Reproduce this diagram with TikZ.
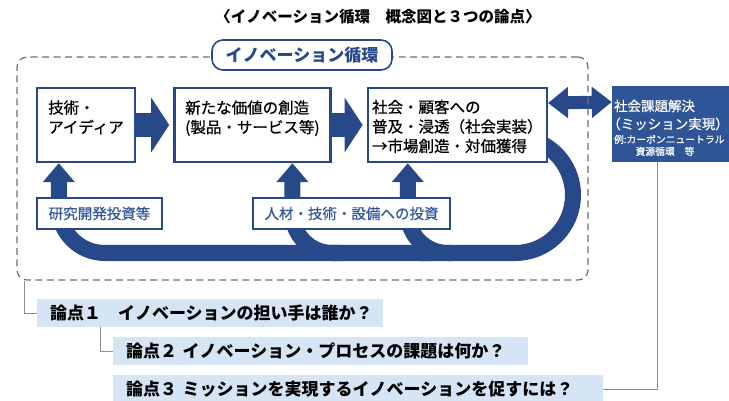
\documentclass[tikz,border=0pt]{standalone}
\usepackage{fontspec}
\setmainfont{Noto Sans CJK JP}
\newfontfamily\jpmedium{Noto Sans CJK JP}[FakeBold=0.7]
\usepackage{tikz}
\usetikzlibrary{positioning,arrows.meta}
\definecolor{navy}{HTML}{27498A}
\definecolor{missionblue}{HTML}{2F5597}
\definecolor{labelblue}{HTML}{35589A}
\definecolor{issueblue}{HTML}{D6E5F5}
\definecolor{framegray}{HTML}{6E6E6E}
\definecolor{linkgray}{HTML}{8C8C8C}
\pgfdeclarelayer{background}
\pgfsetlayers{background,main}
\tikzset{titlenode/.style={shape=rectangle, inner sep=0pt, font=\fontsize{15.5}{18}\selectfont\bfseries}}
\tikzset{stagenode/.style={shape=rectangle, draw=navy, fill=white, line width=2.4pt, minimum height=74pt, align=left, inner sep=2pt, font=\jpmedium\fontsize{15.5}{19.5}\selectfont}}
\tikzset{missionnode/.style={shape=rectangle, fill=missionblue, text=white, minimum width=119pt, minimum height=76pt, align=left, inner xsep=2pt, text width=115pt, font=\jpmedium}}
\tikzset{inputnode/.style={shape=rectangle, draw=navy, fill=white, line width=1.6pt, minimum height=31pt, text=labelblue, font=\jpmedium\fontsize{14.5}{17}\selectfont}}
\tikzset{issuenode/.style={shape=rectangle, fill=issueblue, minimum height=28pt, inner xsep=13pt, inner ysep=0pt, align=left, font=\fontsize{17}{20}\selectfont\bfseries}}
\tikzset{framenode/.style={shape=rectangle, draw=framegray, dash pattern=on 7pt off 4.5pt, line width=1.2pt, rounded corners=10pt}}
\tikzset{cyclenode/.style={shape=rectangle, draw=navy, fill=white, line width=1.6pt, rounded corners=11pt, minimum width=180pt, minimum height=30pt, text=navy, font=\fontsize{17}{20}\selectfont\bfseries}}
\tikzset{flowline/.style={draw=navy, line width=24pt, -{Triangle[width=54pt,length=18pt]}, shorten >=4pt}}
\tikzset{loopline/.style={draw=navy, line width=16pt, -{Triangle[width=31pt,length=19pt]}}}
\tikzset{bothline/.style={draw=navy, line width=13pt, {Triangle[width=30pt,length=20pt]}-{Triangle[width=30pt,length=20pt]}}}
\tikzset{linkline/.style={draw=linkgray, line width=1pt}}

\begin{document}
\begin{tikzpicture}[x=1pt,y=-1pt]
\useasboundingbox (0,0) rectangle (729,401);
%Nodes
\node[titlenode]   (title)   at (378,17)          {〈イノベーション循環　概念図と３つの論点〉};
\node[stagenode, minimum width=98pt]  (tech)   at (86,125)        {\rule{0pt}{16pt}技術・\\アイディア\\\mbox{}};
\node[stagenode, minimum width=156pt] (value)  [right=37pt of tech]  {\rule{0pt}{16pt}新たな価値の創造\\(製品・サービス等)\\\mbox{}};
\node[stagenode, minimum width=179pt] (market) [right=35pt of value] {\rule{0pt}{16pt}社会・顧客への\\普及・浸透（社会実装）\\→市場創造・対価獲得};
\node[missionnode] (mission) at (671.5,124) {\fontsize{13.5}{18}\selectfont\rule{0pt}{19pt}社会課題解決\\\hspace*{-0.5em}（ミッション実現）\\[2pt]
  \fontsize{9.8}{12}\selectfont 例:カーボンニュートラル\\\hspace*{2.2em}資源循環　等};
\node[framenode, minimum width=571pt, minimum height=223pt] (frame) at (302.5,168.5) {};
\node[cyclenode]   (cycle)   at (302,55)           {イノベーション循環};
\node[issuenode, text width=320pt] (issue1) at (210,313) {論点１　イノベーションの担い手は誰か？};
\node[issuenode, text width=389pt] (issue2) at (320.5,351) {論点２ イノベーション・プロセスの課題は何か？};
\node[issuenode, text width=464pt] (issue3) at (358,389) {論点３ ミッションを実現するイノベーションを促すには？};
\coordinate (loopin)     at (470,137);
\coordinate (loopbottom) at (420,253);
\coordinate (techfork)   at (430,253);
\coordinate (valuefork)  at (342,253);
\coordinate (marketfork) at (452,253);
%Lines
\begin{pgfonlayer}{background}
\draw[loopline, -] (loopin) -- (515,137) arc[start angle=-90, end angle=90, radius=58] -- (loopbottom);
\draw[loopline, rounded corners=46pt] (techfork) -| ([xshift=23pt]tech.south west);
\draw[loopline, rounded corners=40pt] (valuefork) -| ([xshift=40pt]value.south);
\draw[loopline, rounded corners=40pt] (marketfork) -| ([xshift=-49.5pt]market.south);
\draw[bothline] ([yshift=22pt]market.east) -- ([yshift=22pt]mission.west);
\end{pgfonlayer}
\draw[flowline] (tech) -- (value);
\draw[flowline] (value) -- (market);
\node[inputnode, minimum width=125pt] (rnd)    at (99.5,213.5)  {研究開発投資等};
\node[inputnode, minimum width=197pt] (invest) at (351.5,213.5) {人材・技術・設備への投資};
\draw[linkline] ([xshift=8pt]frame.south west) |- (issue1.west);
\draw[linkline] ([xshift=64pt]issue1.south west) |- (issue2.west);
\draw[linkline] ([xshift=-14pt]mission.south) |- (issue3.east);
\end{tikzpicture}
\end{document}
